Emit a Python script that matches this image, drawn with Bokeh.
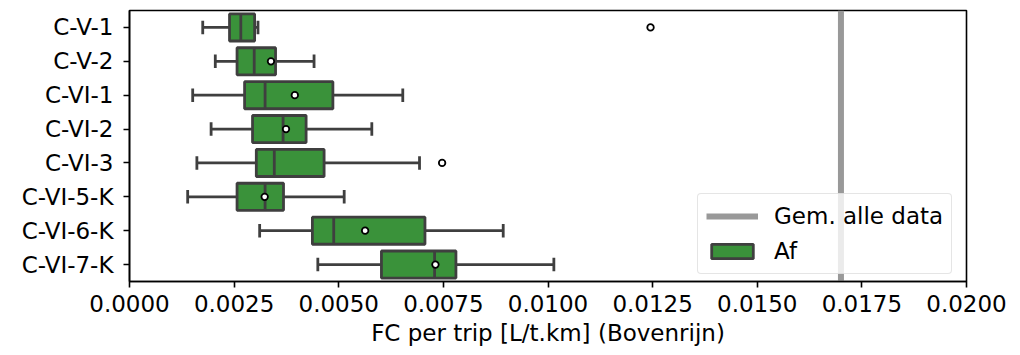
from bokeh.plotting import figure
from bokeh.models import (ColumnDataSource, FactorRange, Range1d, FixedTicker,
                          Legend, LegendItem, PrintfTickFormatter)
from bokeh.transform import dodge
from bokeh.embed import file_html
from bokeh.resources import INLINE

# ---- data ----
categories = ["C-V-1", "C-V-2", "C-VI-1", "C-VI-2", "C-VI-3",
              "C-VI-5-K", "C-VI-6-K", "C-VI-7-K"]
whisker_low = [0.00175, 0.00205, 0.00151, 0.00195, 0.00161, 0.00139, 0.00311, 0.00450]
q1 = [0.00239, 0.00257, 0.00275, 0.00294, 0.00303, 0.00257, 0.00437, 0.00602]
median = [0.00266, 0.00298, 0.00324, 0.00367, 0.00346, 0.00324, 0.00488, 0.00729]
q3 = [0.00299, 0.00349, 0.00486, 0.00422, 0.00465, 0.00368, 0.00706, 0.00780]
whisker_high = [0.00307, 0.00441, 0.00653, 0.00579, 0.00693, 0.00513, 0.00893, 0.01014]
mean = [0.01245, 0.00338, 0.00395, 0.00374, 0.00747, 0.00323, 0.00563, 0.00731]
overall_mean = 0.0170
x_ticks = [0.0, 0.0025, 0.005, 0.0075, 0.01, 0.0125, 0.015, 0.0175, 0.02]

series_label = "Af"
mean_label = "Gem. alle data"
x_label = "FC per trip [L/t.km] (Bovenrijn)"

GREEN = "#3a923a"
GRAY = "#3f3f3f"
FONT = "DejaVu Sans"
FS = "23px"

src = ColumnDataSource(dict(cat=categories, wl=whisker_low, q1=q1, med=median,
                            q3=q3, wh=whisker_high, mean=mean))

p = figure(width=1020, height=355,
           y_range=FactorRange(factors=categories[::-1]),
           x_range=Range1d(0, 0.02),
           output_backend="svg", toolbar_location=None,
           min_border_left=129, min_border_right=54,
           min_border_top=10, min_border_bottom=74)

p.xgrid.visible = False
p.ygrid.visible = False
p.outline_line_color = "black"
p.outline_line_width = 1.6
p.background_fill_color = "white"
p.border_fill_color = "white"

# mean of all data (vertical line)
vline = p.segment(x0=[overall_mean], x1=[overall_mean],
                  y0=[(categories[-1], -0.5)], y1=[(categories[0], 0.5)],
                  line_color="#999999", line_width=6)

# whiskers
p.segment(x0="wl", x1="q1", y0="cat", y1="cat", source=src,
          line_color=GRAY, line_width=2.8)
p.segment(x0="q3", x1="wh", y0="cat", y1="cat", source=src,
          line_color=GRAY, line_width=2.8)
# caps
yr = p.y_range
p.segment(x0="wl", x1="wl", y0=dodge("cat", -0.2, range=yr), y1=dodge("cat", 0.2, range=yr),
          source=src, line_color=GRAY, line_width=2.8)
p.segment(x0="wh", x1="wh", y0=dodge("cat", -0.2, range=yr), y1=dodge("cat", 0.2, range=yr),
          source=src, line_color=GRAY, line_width=2.8)
# boxes
boxes = p.hbar(y="cat", left="q1", right="q3", height=0.8, source=src,
               fill_color=GREEN, line_color=GRAY, line_width=2.8)
# medians
p.segment(x0="med", x1="med", y0=dodge("cat", -0.4, range=yr), y1=dodge("cat", 0.4, range=yr),
          source=src, line_color=GRAY, line_width=2.8)
# means
p.scatter(x="mean", y="cat", source=src, marker="circle", size=6.5,
          fill_color="white", line_color="black", line_width=1.8)

# axes
p.xaxis.ticker = FixedTicker(ticks=x_ticks)
p.xaxis.formatter = PrintfTickFormatter(format="%.4f")
p.xaxis.axis_label = x_label
for ax in (p.xaxis[0], p.yaxis[0]):
    ax.major_label_text_font = FONT
    ax.major_label_text_font_size = FS
    ax.major_label_text_color = "black"
    ax.axis_label_text_font = FONT
    ax.axis_label_text_font_size = FS
    ax.axis_label_text_font_style = "normal"
    ax.axis_label_text_color = "black"
    ax.axis_line_color = "black"
    ax.axis_line_width = 1.6
    ax.major_tick_line_color = "black"
    ax.major_tick_line_width = 1.6
    ax.major_tick_out = 6
    ax.major_tick_in = 0
    ax.minor_tick_line_color = None
p.xaxis.major_label_standoff = 7
p.xaxis.axis_label_standoff = 5
p.yaxis.major_label_standoff = 10

legend = Legend(items=[LegendItem(label=mean_label, renderers=[vline]),
                       LegendItem(label=series_label, renderers=[boxes])],
                location=(568, 7))
legend.label_text_font = FONT
legend.label_text_font_size = FS
legend.label_text_color = "black"
legend.glyph_width = 52
legend.glyph_height = 18
legend.label_height = 28
legend.label_standoff = 16
legend.padding = 8
legend.spacing = 7
legend.margin = 0
legend.border_line_color = "#cccccc"
legend.border_line_width = 1
legend.background_fill_alpha = 0.8
try:
    legend.border_radius = 4
except Exception:
    pass
p.add_layout(legend)

open("out.html", "w").write(file_html(p, INLINE))
